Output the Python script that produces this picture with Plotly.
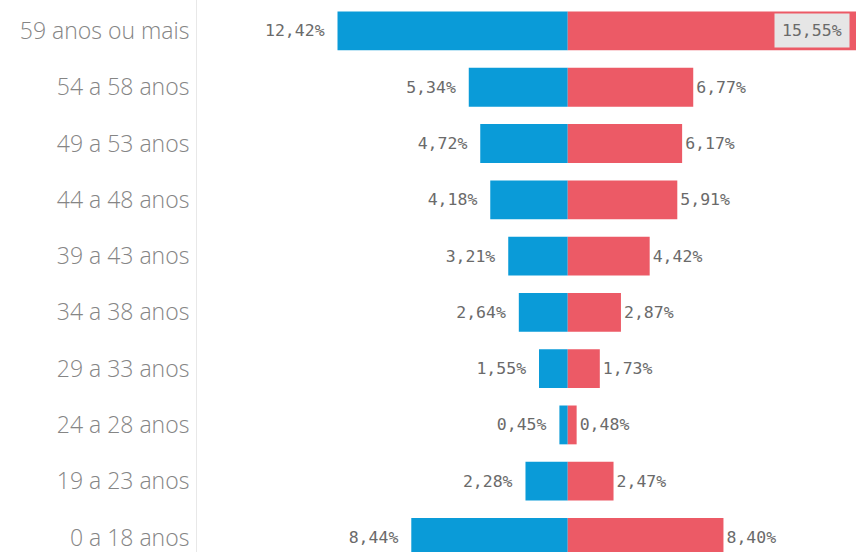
import plotly.graph_objects as go

categorias = ["0 a 18 anos", "19 a 23 anos", "24 a 28 anos", "29 a 33 anos", "34 a 38 anos",
              "39 a 43 anos", "44 a 48 anos", "49 a 53 anos", "54 a 58 anos", "59 anos ou mais"]
masculino = [8.44, 2.28, 0.45, 1.55, 2.64, 3.21, 4.18, 4.72, 5.34, 12.42]
feminino = [8.40, 2.47, 0.48, 1.73, 2.87, 4.42, 5.91, 6.17, 6.77, 15.55]

def fmt(v):
    return f"{v:.2f}".replace(".", ",") + "%"

max_f = max(feminino)
fem_text = [fmt(v) if v != max_f else "" for v in feminino]

label_font = dict(family="DejaVu Sans Mono", size=16.5, color="#6a6a6a")

fig = go.Figure()
fig.add_trace(go.Bar(
    y=categorias, x=[-v for v in masculino], orientation="h",
    marker=dict(color="#0a9bd8", line=dict(width=0)),
    text=[fmt(v) + " " for v in masculino], textposition="outside",
    textfont=label_font, cliponaxis=False, width=0.69, name="M"))
fig.add_trace(go.Bar(
    y=categorias, x=feminino, orientation="h",
    marker=dict(color="#ec5a66", line=dict(width=0)),
    text=fem_text, textposition="outside",
    textfont=label_font, cliponaxis=False, width=0.69, name="F"))

i_max = feminino.index(max_f)
fig.add_annotation(x=max_f, y=categorias[i_max], text=fmt(max_f), showarrow=False,
                   xanchor="right", xshift=-6, font=label_font,
                   bgcolor="#e6e6e6", borderpad=7)

fig.update_layout(
    width=856, height=552, barmode="overlay", showlegend=False,
    margin=dict(l=197, r=0, t=0, b=0),
    plot_bgcolor="white", paper_bgcolor="white",
    xaxis=dict(range=[-20, 15.55], visible=False, fixedrange=True),
    yaxis=dict(range=[-0.258, 9.55], showline=True, linecolor="#e8e8e8", linewidth=1,
               showgrid=False, ticks="", ticklabelstandoff=2,
               tickfont=dict(family="Open Sans", size=23, color="#858585", weight=300)),
)
fig.write_html("out.html", post_script="document.body.style.margin='0';",
               config={"displayModeBar": False})
